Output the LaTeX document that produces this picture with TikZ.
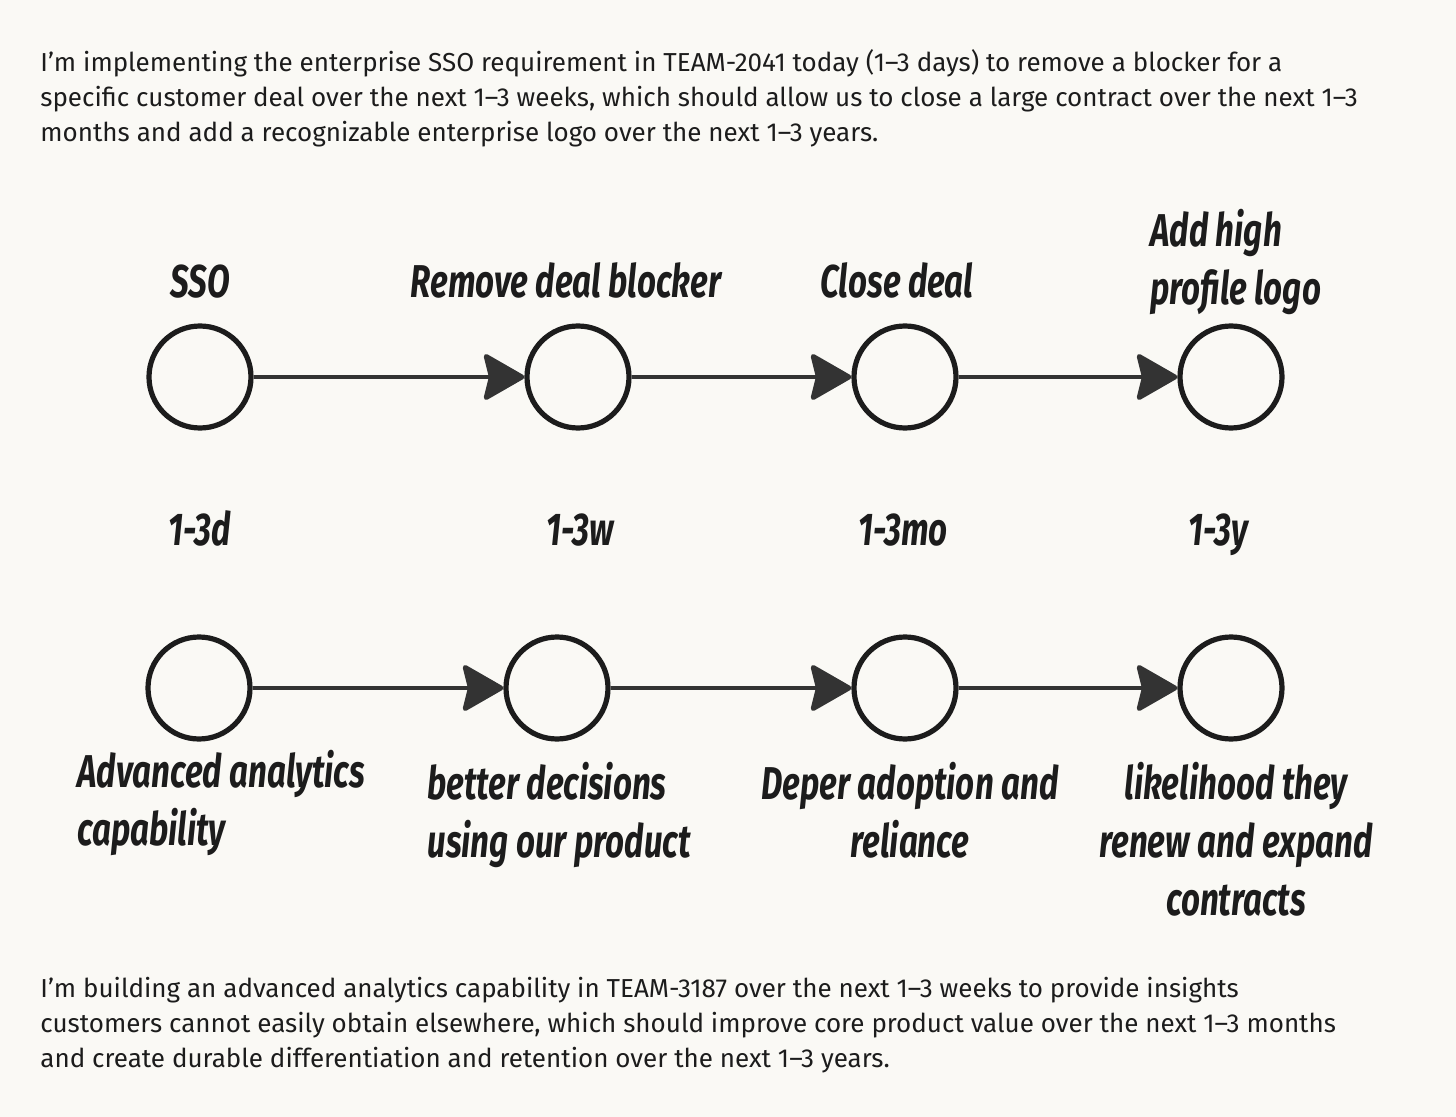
\documentclass[tikz,border=0pt]{standalone}
\usepackage{fontspec}
\setmainfont{Fira Sans}
\newfontfamily\handfont[FakeStretch=0.72]{Fira Sans}
\usepackage{tikz}
\usetikzlibrary{arrows.meta,positioning}
\definecolor{paper}{RGB}{250,249,245}
\definecolor{ink}{RGB}{28,28,28}
\definecolor{arrowgray}{RGB}{51,51,51}

\begin{document}
\begin{tikzpicture}[x=0.5pt, y=-0.5pt, >={Stealth[length=22pt,width=25pt,inset=3pt,round]},
    dot/.style={circle, draw=ink, line width=2.6pt, inner sep=0pt, minimum size=51pt},
    hand/.style={font=\handfont\bfseries\itshape\fontsize{23}{29}\selectfont, text=ink, inner sep=0pt},
    para/.style={font=\fontsize{13}{17.5}\selectfont, text=ink, align=left, inner sep=0pt},
    link/.style={->, line width=2.4pt, draw=arrowgray, fill=arrowgray}]

    \useasboundingbox (0,0) rectangle (1456,1117);
    \fill[paper] (0,0) rectangle (1456,1117);

    % Intro text (anchored at its last line)
    \node[para, anchor=base west] (intro) at (40,142) {I’m implementing the enterprise SSO requirement in TEAM-2041 today (1–3 days) to remove a blocker for a\\specific customer deal over the next 1–3 weeks, which should allow us to close a large contract over the next 1–3\\months and add a recognizable enterprise logo over the next 1–3 years.};

    % Top row
    \node[dot] (sso) at (200,377) {};
    \node[dot] (blocker) at (578,377) {};
    \node[dot] (close) at (905,377) {};
    \node[dot] (logo) at (1231,377) {};

    \draw[link] (sso) -- (blocker);
    \draw[link] (blocker) -- (close);
    \draw[link] (close) -- (logo);

    \node[hand, anchor=base] (ssolbl) at (200,298) {SSO};
    \node[hand, anchor=base] (blockerlbl) at (566,298) {Remove deal blocker};
    \node[hand, anchor=base] (closelbl) at (897,298) {Close deal};
    \node[hand, anchor=base west, align=left] (logolbl) at (1150,305) {Add high\\profile logo};

    % Durations
    \node[hand, anchor=base] (days) at (200,545) {1-3d};
    \node[hand, anchor=base] (weeks) at (580,545) {1-3w};
    \node[hand, anchor=base] (months) at (903,545) {1-3mo};
    \node[hand, anchor=base] (years) at (1218,545) {1-3y};

    % Bottom row
    \node[dot] (analytics) at (199,688) {};
    \node[dot] (decisions) at (557,688) {};
    \node[dot] (adoption) at (905,688) {};
    \node[dot] (renew) at (1231,688) {};

    \draw[link] (analytics) -- (decisions);
    \draw[link] (decisions) -- (adoption);
    \draw[link] (adoption) -- (renew);

    \node[hand, anchor=base west, align=left] (analyticslbl) at (77,845) {Advanced analytics\\capability};
    \node[hand, anchor=base west, align=left] (decisionslbl) at (427,857) {better decisions\\using our product};
    \node[hand, anchor=base, align=center] (adoptionlbl) at (910,857) {Deper adoption and\\reliance};
    \node[hand, anchor=base, align=center] (renewlbl) at (1236,915) {likelihood they\\renew and expand\\contracts};

    % Closing text (anchored at its last line)
    \node[para, anchor=base west] (outro) at (40,1067) {I’m building an advanced analytics capability in TEAM-3187 over the next 1–3 weeks to provide insights\\customers cannot easily obtain elsewhere, which should improve core product value over the next 1–3 months\\and create durable differentiation and retention over the next 1–3 years.};
\end{tikzpicture}
\end{document}
